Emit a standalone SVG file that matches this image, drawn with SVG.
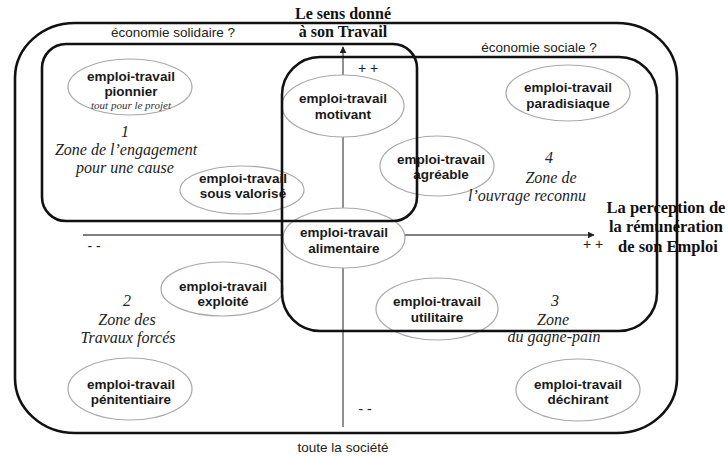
<svg xmlns="http://www.w3.org/2000/svg" width="728" height="457" viewBox="0 0 728 457">
<style>
.zone{fill:none;stroke:#111;stroke-width:2.6}
.ell{fill:#fff;stroke:#a8a8a8;stroke-width:1.2}
.lab{font-family:"Liberation Sans",Arial,sans-serif;font-weight:bold;font-size:13.5px;fill:#1a1a1a;text-anchor:middle}
.sm{font-family:"Liberation Serif","Times New Roman",serif;font-style:italic;font-size:11px;fill:#333;text-anchor:middle}
.zt{font-family:"Liberation Serif","Times New Roman",serif;font-style:italic;font-size:16px;fill:#222;text-anchor:middle}
.eco{font-family:"Liberation Sans",Arial,sans-serif;font-size:13.5px;fill:#222;text-anchor:middle}
.ax{font-family:"Liberation Serif","Times New Roman",serif;font-weight:bold;font-size:16px;fill:#111;text-anchor:middle}
.sg{font-family:"Liberation Sans",Arial,sans-serif;font-size:14px;fill:#222;text-anchor:middle}
.axis{stroke:#555;stroke-width:1.3;fill:none}
</style>
<defs>
<marker id="arr" viewBox="0 0 10 10" refX="9" refY="5" markerWidth="7" markerHeight="7" markerUnits="userSpaceOnUse" orient="auto">
<path d="M0,0 L10,5 L0,10 z" fill="#222"/>
</marker>
</defs>
<rect width="728" height="457" fill="#fff"/>

<g id="connectors">
<line class="axis" x1="343" y1="427" x2="343" y2="47" marker-end="url(#arr)"/>
<line class="axis" x1="83" y1="235" x2="594" y2="235" marker-end="url(#arr)"/>
</g>

<g id="axis-labels">
<text class="ax" x="343" y="19">Le sens donné</text>
<text class="ax" x="343" y="37">à son Travail</text>
<text class="ax" x="666" y="213" style="font-size:16.5px">La perception de</text>
<text class="ax" x="666" y="232" style="font-size:16.5px">la rémunération</text>
<text class="ax" x="668" y="252" style="font-size:16.5px">de son Emploi</text>
<text class="sg" x="368" y="73">+ +</text>
<text class="sg" x="593" y="249">+ +</text>
<text class="sg" x="94" y="251">- -</text>
<text class="sg" x="365" y="414">- -</text>
</g>

<g id="node-pionnier">
<ellipse class="ell" cx="130" cy="87" rx="62" ry="28"/>
<text class="lab" x="131" y="81">emploi-travail</text>
<text class="lab" x="131" y="96">pionnier</text>
<text class="sm" x="131" y="109">tout pour le projet</text>
</g>
<g id="node-sous-valorise">
<ellipse class="ell" cx="242" cy="190" rx="62" ry="24"/>
<text class="lab" x="243" y="183">emploi-travail</text>
<text class="lab" x="243" y="198">sous valorisé</text>
</g>
<g id="node-motivant">
<ellipse class="ell" cx="343" cy="106" rx="61" ry="31"/>
<text class="lab" x="343" y="103">emploi-travail</text>
<text class="lab" x="343" y="119">motivant</text>
</g>
<g id="node-alimentaire">
<ellipse class="ell" cx="344" cy="238" rx="61" ry="30"/>
<text class="lab" x="344" y="237">emploi-travail</text>
<text class="lab" x="344" y="253">alimentaire</text>
</g>
<g id="node-agreable">
<ellipse class="ell" cx="437" cy="166" rx="57" ry="30"/>
<text class="lab" x="441" y="164">emploi-travail</text>
<text class="lab" x="441" y="179">agréable</text>
</g>
<g id="node-paradisiaque">
<ellipse class="ell" cx="568" cy="93" rx="62" ry="28"/>
<text class="lab" x="568" y="92">emploi-travail</text>
<text class="lab" x="568" y="108">paradisiaque</text>
</g>
<g id="node-exploite">
<ellipse class="ell" cx="222" cy="289" rx="61" ry="27"/>
<text class="lab" x="223" y="291">emploi-travail</text>
<text class="lab" x="223" y="306">exploité</text>
</g>
<g id="node-penitentiaire">
<ellipse class="ell" cx="130" cy="389" rx="62" ry="31"/>
<text class="lab" x="131" y="389">emploi-travail</text>
<text class="lab" x="131" y="404">pénitentiaire</text>
</g>
<g id="node-utilitaire">
<ellipse class="ell" cx="437" cy="309" rx="61" ry="31"/>
<text class="lab" x="437" y="306">emploi-travail</text>
<text class="lab" x="437" y="322">utilitaire</text>
</g>
<g id="node-dechirant">
<ellipse class="ell" cx="578" cy="390" rx="62" ry="31"/>
<text class="lab" x="578" y="389">emploi-travail</text>
<text class="lab" x="578" y="404">déchirant</text>
</g>

<g id="zone-labels">
<text class="zt" x="125" y="137">1</text>
<text class="zt" x="126" y="155">Zone de l’engagement</text>
<text class="zt" x="125" y="173">pour une cause</text>
<text class="zt" x="127" y="306">2</text>
<text class="zt" x="127" y="325">Zone des</text>
<text class="zt" x="128" y="343">Travaux forcés</text>
<text class="zt" x="555" y="306">3</text>
<text class="zt" x="553" y="325">Zone</text>
<text class="zt" x="554" y="342">du gagne-pain</text>
<text class="zt" x="549" y="163">4</text>
<text class="zt" x="551" y="183">Zone de</text>
<text class="zt" x="527" y="201">l’ouvrage reconnu</text>
</g>

<g id="zone-societe">
<rect class="zone" x="15" y="23" width="662" height="410" rx="60" ry="55"/>
<text class="eco" x="343" y="452">toute la société</text>
</g>
<g id="zone-solidaire">
<rect class="zone" x="42" y="44" width="375" height="177" rx="24" ry="24"/>
<text class="eco" x="173" y="37">économie solidaire ?</text>
</g>
<g id="zone-sociale">
<rect class="zone" x="282" y="57" width="375" height="274" rx="38" ry="38"/>
<text class="eco" x="539" y="52">économie sociale ?</text>
</g>
</svg>
